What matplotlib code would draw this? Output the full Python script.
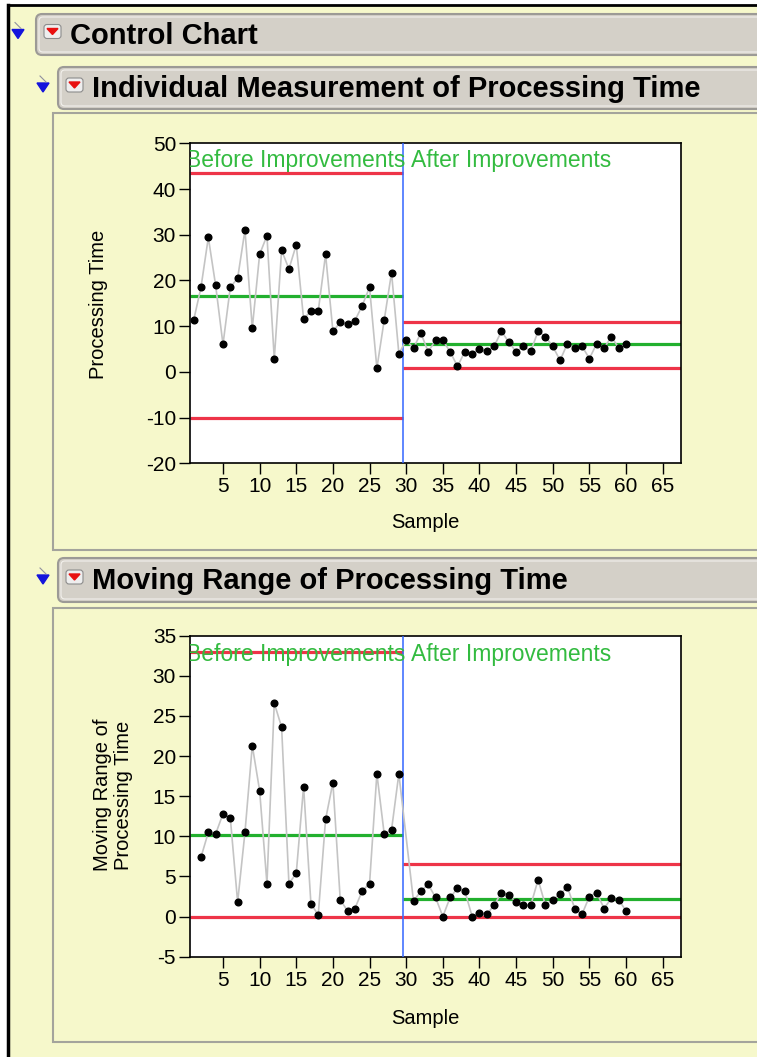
import numpy as np
import matplotlib
matplotlib.use("Agg")
import matplotlib.pyplot as plt
from matplotlib.patches import FancyBboxPatch, Rectangle, Polygon

plt.rcParams['font.family'] = ['Liberation Sans', 'DejaVu Sans']
plt.rcParams['axes.unicode_minus'] = False

# Individual measurements, samples 1-60 (phase change after sample 29)
samples = np.arange(1, 61)
processing_time = [11.3, 18.5, 29.4, 18.9, 6.0, 18.5, 20.5, 31.0, 9.6, 25.7,
                   29.8, 2.8, 26.6, 22.5, 27.8, 11.6, 13.3, 13.3, 25.7, 8.9,
                   10.8, 10.5, 11.2, 14.5, 18.5, 0.8, 11.3, 21.7, 4.0,
                   6.9, 5.2, 8.5, 4.4, 6.9, 6.9, 4.4, 1.2, 4.4, 4.0,
                   4.9, 4.5, 5.6, 8.9, 6.5, 4.4, 5.6, 4.5, 8.9, 7.7,
                   5.6, 2.5, 6.2, 5.2, 5.6, 2.9, 6.2, 5.2, 7.7, 5.2, 6.2]

# Moving ranges (none at sample 1 and at sample 30, first of each phase)
mr_samples = list(range(2, 30)) + list(range(31, 61))
moving_range = [7.4, 10.5, 10.3, 12.8, 12.3, 1.8, 10.5, 21.3, 15.7, 4.1,
                26.6, 23.6, 4.1, 5.4, 16.2, 1.6, 0.2, 12.1, 16.7, 2.1,
                0.7, 1.0, 3.2, 4.1, 17.8, 10.3, 10.8, 17.8,
                1.9, 3.2, 4.0, 2.4, 0.0, 2.4, 3.5, 3.2, 0.0, 0.5,
                0.3, 1.4, 3.0, 2.7, 1.8, 1.4, 1.4, 4.6, 1.4, 2.1,
                2.8, 3.7, 1.0, 0.3, 2.5, 3.0, 1.0, 2.3, 2.1, 0.7]

# control limits per phase: (LCL, CL, UCL)
phase_names = ['Before Improvements', 'After Improvements']
ind_limits = [(-10.2, 16.7, 43.6), (0.8, 6.0, 11.0)]
mr_limits = [(0.0, 10.2, 33.0), (0.0, 2.2, 6.6)]
phase_split = 29.5

W, H = 757, 1057
YELLOW = '#F6F8CB'
BAR = '#D4D0C8'
RED = '#EE3448'
GREEN = '#22B02E'
TEXT_GREEN = '#33BB40'

fig = plt.figure(figsize=(W / 100, H / 100), dpi=100)

# ---- window chrome drawn in pixel coordinates ----
bg = fig.add_axes([0, 0, 1, 1])
bg.set_xlim(0, W)
bg.set_ylim(H, 0)
bg.axis('off')
bg.add_patch(Rectangle((0, 0), W, H, fc='white', ec='none'))
bg.add_patch(Rectangle((8, 5), W, H, fc=YELLOW, ec='none'))
bg.plot([8, 8], [5, H], color='black', lw=2.5)
bg.plot([8, W], [5, 5], color='black', lw=2)

def header(x, y, h, label, tri_x):
    bg.add_patch(FancyBboxPatch((x, y), W - x + 20, h,
                                boxstyle='round,pad=0,rounding_size=6',
                                fc=BAR, ec='#9C9A96', lw=1.5))
    bg.add_patch(FancyBboxPatch((x + 3, y + 3), W - x + 20, h - 6,
                                boxstyle='round,pad=0,rounding_size=4',
                                fc='none', ec='#F2F0EC', lw=0.8))
    cy = y + h / 2
    bg.add_patch(Polygon([(tri_x, cy - 5), (tri_x + 12, cy - 5), (tri_x + 6, cy + 4)],
                         closed=True, fc='#1414DC', ec='#1414DC'))
    bg.plot([tri_x + 3, tri_x + 9], [cy - 12, cy - 6], color='#9090A0', lw=0.8)
    bg.add_patch(FancyBboxPatch((x + 8, cy - 10), 17, 14,
                                boxstyle='round,pad=0,rounding_size=3',
                                fc='#EEEEEE', ec='#8C8C8C', lw=0.8))
    bg.add_patch(Polygon([(x + 11, cy - 6), (x + 22, cy - 6), (x + 16.5, cy)],
                         closed=True, fc='#E81010', ec='#E81010'))
    bg.text(x + 34, cy + 1, label, fontsize=21, fontweight='bold',
            va='center', ha='left', color='black')

header(36, 14, 41, 'Control Chart', 12)
header(58, 67, 42, 'Individual Measurement of Processing Time', 37)
bg.add_patch(Rectangle((53, 113), W, 437, fc=YELLOW, ec='#A4A49C', lw=1.5))
header(58, 558, 44, 'Moving Range of Processing Time', 37)
bg.add_patch(Rectangle((53, 608), W, 434, fc=YELLOW, ec='#A4A49C', lw=1.5))


def control_panel(rect, x, y, limits, ylim, yticks, label_y):
    ax = fig.add_axes(rect)
    ax.set_facecolor('white')
    xmin, xmax = 0.5, 67.5
    ax.set_xlim(xmin, xmax)
    ax.set_ylim(*ylim)
    spans = [(xmin, phase_split), (phase_split, xmax)]
    for (lo, hi), (lcl, cl, ucl) in zip(spans, limits):
        ax.hlines([lcl, ucl], lo, hi, colors=RED, lw=2.3, zorder=2)
        ax.hlines(cl, lo, hi, colors=GREEN, lw=2.3, zorder=2)
    ax.axvline(phase_split, color='#3366FF', lw=1.1, zorder=3)
    ax.plot(x, y, color='#C4C4C4', lw=1.2, zorder=4)
    ax.plot(x, y, 'o', color='black', ms=4.8, zorder=5)
    ax.text(-0.1, label_y, phase_names[0], color=TEXT_GREEN, fontsize=16.5,
            va='center', ha='left', clip_on=True, zorder=6)
    ax.text(30.7, label_y, phase_names[1], color=TEXT_GREEN, fontsize=16.5,
            va='center', ha='left', clip_on=True, zorder=6)
    ax.set_xticks(range(5, 70, 5))
    ax.set_yticks(yticks)
    ax.tick_params(labelsize=15, length=8, width=1, pad=2, color='black')
    for s in ax.spines.values():
        s.set_linewidth(1.2)
    return ax


def rect_px(left, top, right, bottom):
    return [left / W, 1 - bottom / H, (right - left) / W, (bottom - top) / H]


control_panel(rect_px(190, 143.3, 681, 463.3), samples, processing_time,
              ind_limits, (-20, 50), range(-20, 51, 10), 46.3)
control_panel(rect_px(190, 635.7, 681, 956.7), mr_samples, moving_range,
              mr_limits, (-5, 35), range(-5, 36, 5), 32.7)

bg.text(98, 304, 'Processing Time', rotation=90, fontsize=14.5,
        ha='center', va='center')
bg.text(113, 795, 'Moving Range of\nProcessing Time', rotation=90,
        fontsize=14.5, ha='center', va='center', linespacing=1.1)
bg.text(425, 522, 'Sample', fontsize=14.5, ha='center', va='center')
bg.text(425, 1018, 'Sample', fontsize=14.5, ha='center', va='center')

fig.savefig('out.png', dpi=100)
